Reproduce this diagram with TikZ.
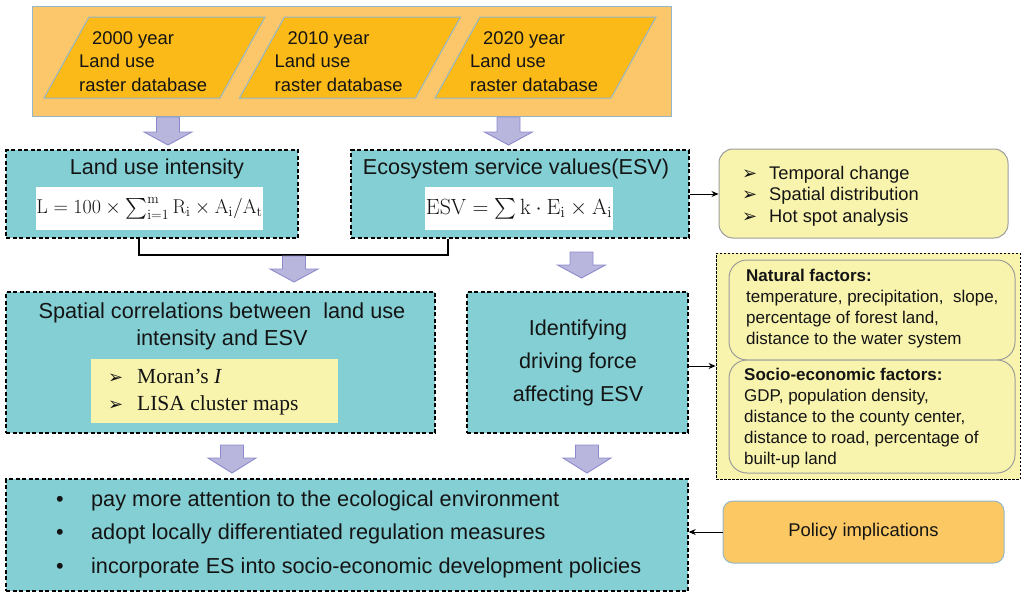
\documentclass[tikz,border=0pt]{standalone}
\usepackage{fix-cm}
\usepackage{exscale}
\usepackage[no-math]{fontspec}
\setmainfont{Liberation Sans}
\newfontfamily\serifrm{Liberation Serif}
\newfontfamily\dingfont{DejaVu Sans}
\usetikzlibrary{arrows.meta}

\definecolor{boxteal}{HTML}{84CFD4}
\definecolor{outerorg}{HTML}{FCC76A}
\definecolor{paraorg}{HTML}{FBBA18}
\definecolor{frameblue}{HTML}{93B6C9}
\definecolor{lavfill}{HTML}{B8B6DD}
\definecolor{lavline}{HTML}{8D8ACB}
\definecolor{paleyel}{HTML}{F8F4AE}
\definecolor{policyorg}{HTML}{FBC864}
\definecolor{softgray}{HTML}{9C9C9C}
\definecolor{inktext}{HTML}{141414}

\newcommand\fsz[2]{\fontsize{#1}{#2}\selectfont}
\newcommand\arrowbullet[1]{\makebox[#1][l]{\dingfont\fsz{18}{18}➢}}
% hollow block arrow pointing down: x, top, neck, tip
\newcommand\flowarrow[4]{%
  \draw[lavarrow] ({#1-11.5},#2) -- ({#1+11.5},#2) -- ({#1+11.5},#3)
    -- ({#1+24},#3) -- (#1,#4) -- ({#1-24},#3) -- ({#1-11.5},#3) -- cycle;}

\begin{document}
\begin{tikzpicture}[x=1pt,y=-1pt,
  every node/.style={text=inktext},
  tealbox/.style={draw=black, line width=1.4pt, dash pattern=on 4pt off 2.5pt,
    fill=boxteal, inner sep=0pt},
  lavarrow/.style={fill=lavfill, draw=lavline, line width=0.9pt, line join=miter},
  paraform/.style={fill=paraorg, draw=frameblue, line width=1pt},
  softbox/.style={draw=softgray, line width=1pt, fill=paleyel, inner sep=0pt},
  pointer/.style={-{Stealth[length=7pt,width=6pt]}, line width=0.9pt, draw=black},
  link/.style={line width=1.1pt, draw=black}]

\useasboundingbox (0,0) rectangle (1022,592);

% ---------- input data ----------
\node[fill=outerorg, draw=frameblue, line width=1pt, minimum width=639,
  minimum height=110, inner sep=0pt] (inputs) at (351.5,61) {};
\foreach \k/\yr in {0/2000,1/2010,2/2020}{
  \pgfmathsetmacro{\off}{195.5*\k}
  \draw[paraform] ({44+\off},98) -- ({89+\off},17) -- ({265+\off},17)
    -- ({220+\off},98) -- cycle;
  \node[anchor=west, align=left, inner sep=0pt, font=\fsz{18.4}{23.5}]
    (db\yr) at ({79+\off},61.5)
    {\hspace*{13pt}\yr{} year\\Land use\\raster database};
}

\flowarrow{168}{117}{132}{145}
\flowarrow{508.5}{117}{132}{145}

% ---------- land use intensity and ESV ----------
\node[tealbox, minimum width=292, minimum height=88] (lui) at (152,194) {};
\node[font=\fsz{21.6}{25}] (luititle) at (157,169) {Land use intensity};
\node[fill=white, minimum width=227, minimum height=43, inner sep=0pt,
  font=\fsz{20}{24}] (luiform) at (149.5,208.5)
  {$\mathrm{L}=100\times{\textstyle\sum}_{\mathrm{i=1}}^{\mathrm{m}}\,\mathrm{R_i}
    \times\mathrm{A_i}/\mathrm{A_t}$};

\node[tealbox, minimum width=338, minimum height=88] (esv) at (520,194) {};
\node[font=\fsz{21.6}{25}] (esvtitle) at (516,169) {Ecosystem service values(ESV)};
\node[fill=white, minimum width=188, minimum height=43, inner sep=0pt,
  font=\fsz{22}{26}] (esvform) at (519,208.5)
  {$\mathrm{ESV}={\textstyle\sum}\,\mathrm{k}\cdot\mathrm{E_i}\times\mathrm{A_i}$};

\node[softbox, rounded corners=14pt, minimum width=289, minimum height=89]
  (trend) at (863.5,193.5) {};
\node[anchor=west, align=left, inner sep=0pt, font=\fsz{18.3}{21.5}]
  (trendlist) at (742,196)
  {\arrowbullet{27pt}Temporal change\\\arrowbullet{27pt}Spatial distribution\\
   \arrowbullet{27pt}Hot spot analysis};
\draw[pointer] (esv.east) -- (esv.east -| trend.west);

\coordinate (joinL) at (139,255);
\coordinate (joinR) at (448,255);
\draw[link] (lui.south -| joinL) -- (joinL) -- (joinR) -- (esv.south -| joinR);

\flowarrow{294}{256}{269}{282}
\flowarrow{581.5}{252}{265}{278}

% ---------- spatial correlation and driving forces ----------
\node[tealbox, minimum width=429, minimum height=141] (corr) at (220.5,362.5) {};
\node[align=center, font=\fsz{21.7}{27}] (corrtitle) at (222,326.5)
  {Spatial correlations between\ \ land use\\intensity and ESV};
\node[fill=paleyel, minimum width=247, minimum height=64, inner sep=0pt]
  (corrmeth) at (214.5,391) {};
\node[anchor=west, align=left, inner sep=0pt, font=\serifrm\fsz{21.5}{27}]
  (corrlist) at (108,392.5)
  {\arrowbullet{29pt}Moran’s \textit{I}\\\arrowbullet{29pt}LISA cluster maps};

\node[tealbox, minimum width=221, minimum height=141] (drive) at (577.5,362.5) {};
\node[align=center, font=\fsz{21.6}{33}] (drivetext) at (578,363)
  {Identifying\\driving force\\affecting ESV};

\node[draw=black, line width=0.9pt, dash pattern=on 2.5pt off 1.5pt,
  fill=paleyel, minimum width=304, minimum height=226, inner sep=0pt]
  (factors) at (868,366) {};
\node[softbox, rounded corners=18pt, minimum width=286, minimum height=100]
  (natural) at (872,310) {};
\node[softbox, rounded corners=18pt, minimum width=286, minimum height=113]
  (socio) at (872,416.5) {};
\node[anchor=west, align=left, inner sep=0pt, font=\fsz{17}{21}]
  (naturaltext) at (746,308.5)
  {\textbf{Natural factors:}\\temperature, precipitation,\ \ slope,\\
   percentage of forest land,\\distance to the water system};
\node[anchor=west, align=left, inner sep=0pt, font=\fsz{17}{21}]
  (sociotext) at (744,418.5)
  {\textbf{Socio-economic factors:}\\GDP, population density,\\
   distance to the county center,\\distance to road, percentage of\\built-up land};
\draw[pointer] (drive.east |- 0,366) -- (factors.west |- 0,366);

\flowarrow{232}{445}{458}{473}
\flowarrow{587}{445}{458}{473}

% ---------- policy implications ----------
\node[tealbox, minimum width=682, minimum height=112] (actions) at (347,535) {};
\node[anchor=west, align=left, inner sep=0pt, font=\fsz{21.7}{33.5}]
  (actionlist) at (56,534)
  {\makebox[35pt][l]{\textbullet}pay more attention to the ecological environment\\
   \makebox[35pt][l]{\textbullet}adopt locally differentiated regulation measures\\
   \makebox[35pt][l]{\textbullet}incorporate ES into socio-economic development policies};

\node[fill=policyorg, draw=frameblue, line width=1pt, rounded corners=10pt,
  minimum width=281, minimum height=62, inner sep=0pt, font=\fsz{18.4}{22}]
  (policy) at (863.5,532) {Policy implications};
\draw[pointer] (policy.west) -- (policy.west -| actions.east);

\end{tikzpicture}
\end{document}
